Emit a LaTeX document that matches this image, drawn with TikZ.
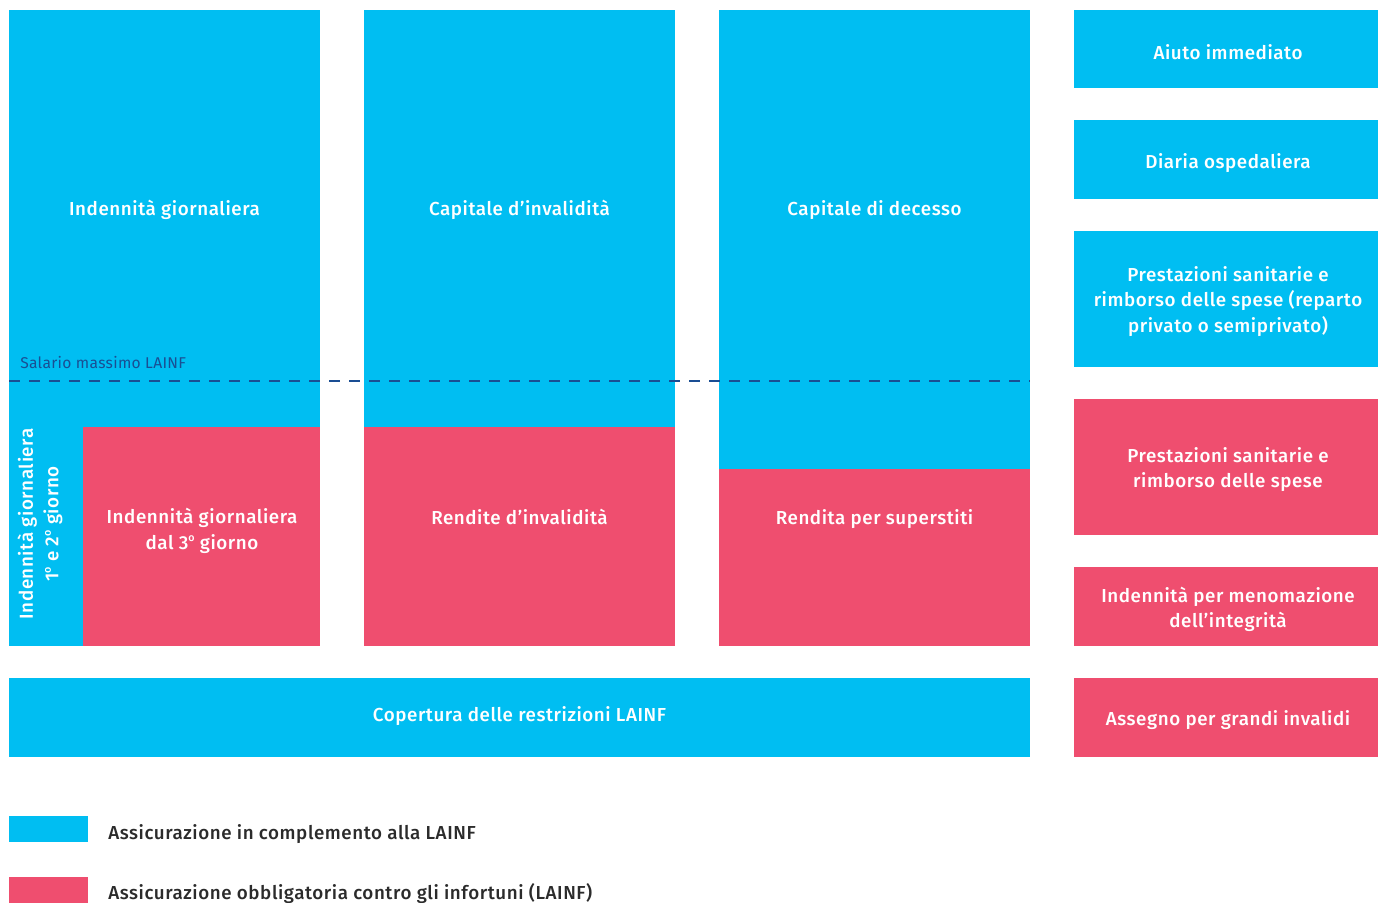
\documentclass[tikz,border=0pt]{standalone}
\usepackage{fontspec}
\setmainfont{Fira Sans}[LetterSpace=2]
\newfontfamily\medfont{Fira Sans Medium}[LetterSpace=3]
\definecolor{cblue}{HTML}{00BEF2}
\definecolor{cpink}{HTML}{EF4E6F}
\definecolor{cdark}{HTML}{1A4E93}
\definecolor{ctext}{HTML}{2B2B2B}
\newcommand{\ordo}{\raisebox{0.75ex}{\fontsize{8}{8}\selectfont o}}
\begin{document}
\begin{tikzpicture}[x=0.75pt,y=-0.75pt,
  fillb/.style={fill=cblue,draw=none},
  fillp/.style={fill=cpink,draw=none},
  lbl/.style={text=white,font=\medfont\fontsize{14.1}{19}\selectfont,align=center,inner sep=0pt},
  leg/.style={text=ctext,font=\medfont\fontsize{14.1}{19}\selectfont,anchor=base west,inner sep=0pt}]
\useasboundingbox (0,0) rectangle (1378,903);
% column 1
\path[fillb] (9,10) rectangle (320,646);
\path[fillp] (83,427) rectangle (320,646);
% column 2
\path[fillb] (364,10) rectangle (675,427);
\path[fillp] (364,427) rectangle (675,646);
% column 3
\path[fillb] (719,10) rectangle (1030,469);
\path[fillp] (719,469) rectangle (1030,646);
% bottom bar
\path[fillb] (9,678) rectangle (1030,757);
% right column
\path[fillb] (1074,10) rectangle (1378,88);
\path[fillb] (1074,120) rectangle (1378,199);
\path[fillb] (1074,231) rectangle (1378,367);
\path[fillp] (1074,399) rectangle (1378,535);
\path[fillp] (1074,567) rectangle (1378,646);
\path[fillp] (1074,678) rectangle (1378,757);
% legend
\path[fillb] (9,816) rectangle (88,842);
\path[fillp] (9,877) rectangle (88,903);
% dashed line
\coordinate (dl) at (9,381);
\coordinate (dr) at (1030,381);
\draw[cdark,line width=2pt,dash pattern=on 8.5pt off 6.5pt] (dl) -- (dr);
\node[anchor=base west,inner sep=0pt,text=cdark,font=\fontsize{11.7}{14}\selectfont] (sal) at (20,368) {Salario massimo LAINF};
% labels
\node[lbl] (t1) at (164.5,209.5) {Indennità giornaliera};
\node[lbl] (t2) at (519.5,209.5) {Capitale d’invalidità};
\node[lbl] (t3) at (874.5,210) {Capitale di decesso};
\node[lbl] (t4) at (202,531) {Indennità giornaliera\\dal 3\ordo{} giorno};
\node[lbl,rotate=90] (t5) at (40,524) {Indennità giornaliera\\1\ordo{} e 2\ordo{} giorno};
\node[lbl] (t6) at (519.5,516.5) {Rendite d’invalidità};
\node[lbl] (t7) at (874.5,519) {Rendita per superstiti};
\node[lbl] (t8) at (519.5,716) {Copertura delle restrizioni LAINF};
\node[lbl] (r1) at (1228,52) {Aiuto immediato};
\node[lbl] (r2) at (1228,163.5) {Diaria ospedaliera};
\node[lbl] (r3) at (1228,301.5) {Prestazioni sanitarie e\\rimborso delle spese (reparto\\privato o semiprivato)};
\node[lbl] (r4) at (1228,469.5) {Prestazioni sanitarie e\\rimborso delle spese};
\node[lbl] (r5) at (1228,609.5) {Indennità per menomazione\\dell’integrità};
\node[lbl] (r6) at (1228,720) {Assegno per grandi invalidi};
\node[leg] (l1) at (108,839) {Assicurazione in complemento alla LAINF};
\node[leg] (l2) at (108,899) {Assicurazione obbligatoria contro gli infortuni (LAINF)};
\end{tikzpicture}
\end{document}
